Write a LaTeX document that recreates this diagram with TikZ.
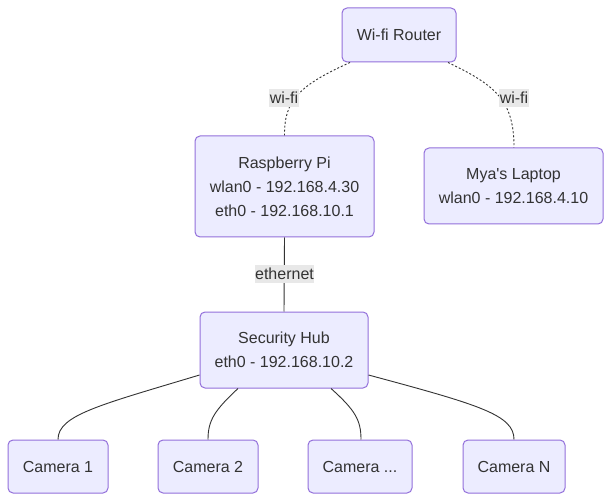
\documentclass[tikz,border=0pt]{standalone}
\usepackage{fontspec}
\setmainfont{Liberation Sans}
\begin{document}
\begin{tikzpicture}[x=1pt,y=-1pt,
  box/.style={draw=nodeborder,fill=nodefill,line width=1pt,rounded corners=5pt,
    text=textcol,align=center,font=\fontsize{16}{24}\selectfont,inner sep=0pt},
  elabel/.style={fill=labelbg,text=textcol,font=\fontsize{16}{24}\selectfont,
    inner xsep=0.5pt,inner ysep=3.5pt},
  wifi/.style={draw=linecol,line width=0.9pt,dash pattern=on 2pt off 2pt},
  wire/.style={draw=linecol,line width=0.9pt}]
\definecolor{nodefill}{HTML}{ECECFF}
\definecolor{nodeborder}{HTML}{9370DB}
\definecolor{textcol}{HTML}{333333}
\definecolor{labelbg}{HTML}{E8E8E8}
\definecolor{linecol}{HTML}{333333}
\useasboundingbox (0,0) rectangle (612,502);
\fill[white] (0,0) rectangle (612,502);

\node[box,minimum width=114pt,minimum height=54pt] (router) at (399,35) {Wi-fi Router};
\node[box,minimum width=179pt,minimum height=101pt] (pi) at (284.5,186.5) {Raspberry Pi\\wlan0 - 192.168.4.30\\eth0 - 192.168.10.1};
\node[box,minimum width=179pt,minimum height=76pt] (laptop) at (513.5,186) {Mya\textquotesingle s Laptop\\wlan0 - 192.168.4.10};
\node[box,minimum width=168pt,minimum height=76pt] (hub) at (284,350) {Security Hub\\eth0 - 192.168.10.2};
\node[box,minimum width=100pt,minimum height=53pt] (cam1) at (58,466.5) {Camera 1};
\node[box,minimum width=100pt,minimum height=53pt] (cam2) at (208,466.5) {Camera 2};
\node[box,minimum width=104pt,minimum height=53pt] (camd) at (360,466.5) {Camera ...};
\node[box,minimum width=102pt,minimum height=53pt] (camn) at (514,466.5) {Camera N};

\coordinate (r1) at ([xshift=-49pt]router.south);
\coordinate (r2) at ([xshift=49pt]router.south);
\path[wifi] (r1) .. controls (300,85) and (284,100) .. (pi.north);
\path[wifi] (r2) .. controls (495,85) and (514,100) .. ([xshift=0.5pt]laptop.north);
\path[wire] (pi.south) -- (hub.north);

\coordinate (h1) at ([yshift=-25pt]hub.west);
\coordinate (h2) at ([xshift=-46pt]hub.south);
\coordinate (h3) at ([xshift=47pt]hub.south);
\coordinate (h4) at ([yshift=-25pt]hub.east);
\path[wire] (h1) .. controls (100,405) and (58,415) .. (cam1.north);
\path[wire] (h2) .. controls (215,410) and (208,420) .. (cam2.north);
\path[wire] (h3) .. controls (355,410) and (361,420) .. ([xshift=1pt]camd.north);
\path[wire] (h4) .. controls (480,405) and (514,415) .. (camn.north);

\node[elabel] (l1) at (284,98) {wi-fi};
\node[elabel] (l2) at (514,98) {wi-fi};
\node[elabel] (l3) at (284.5,274) {ethernet};
\end{tikzpicture}
\end{document}
